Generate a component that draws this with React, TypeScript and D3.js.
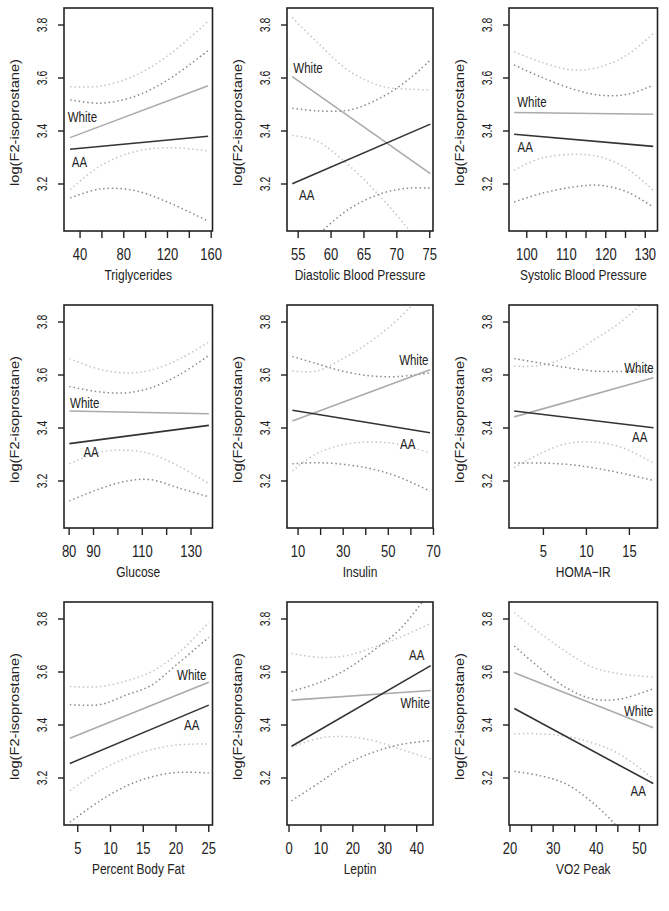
import * as d3 from "d3";

// panel titles (x axis)
const xTitles = [
  "Triglycerides",
  "Diastolic Blood Pressure",
  "Systolic Blood Pressure",
  "Glucose",
  "Insulin",
  "HOMA\u2212IR",
  "Percent Body Fat",
  "Leptin",
  "VO2 Peak",
];
const yTitle = "log(F2-isoprostane)";
const yDomain: [number, number] = [3.0226, 3.8642];
const yTicks = [3.2, 3.4, 3.6, 3.8];

const xDomains: [number, number][] = [
  [25.3, 161.2],
  [53.3, 75.5],
  [95.5, 133.1],
  [77.9, 138.8],
  [5.1, 69.8],
  [1.0, 18.27],
  [2.9, 25.57],
  [-0.63, 45.1],
  [19.77, 54.19],
];
const xTicks = [
  [40, 60, 80, 100, 120, 140, 160],
  [55, 60, 65, 70, 75],
  [100, 105, 110, 115, 120, 125, 130],
  [80, 90, 100, 110, 120, 130],
  [10, 20, 30, 40, 50, 60, 70],
  [5, 10, 15],
  [5, 10, 15, 20, 25],
  [0, 10, 20, 30, 40],
  [20, 25, 30, 35, 40, 45, 50],
];
const xTickLabels = [
  [40, 80, 120, 160],
  [55, 60, 65, 70, 75],
  [100, 110, 120, 130],
  [80, 90, 110, 130],
  [10, 30, 50, 70],
  [5, 10, 15],
  [5, 10, 15, 20, 25],
  [0, 10, 20, 30, 40],
  [20, 30, 40, 50],
];

// fitted lines: x start/end, y start/end
const lineX = [
  [30.8, 157.2], [54.1, 75.1], [96.8, 132.0],
  [80.1, 137.3], [7.5, 68.5], [1.6, 17.8],
  [3.8, 25.0], [0.8, 44.4], [21.0, 53.2],
];
const whiteLine = [
  [3.375, 3.571], [3.605, 3.239], [3.47, 3.463],
  [3.464, 3.454], [3.426, 3.62], [3.442, 3.59],
  [3.35, 3.561], [3.494, 3.53], [3.597, 3.39],
];
const aaLine = [
  [3.331, 3.38], [3.201, 3.426], [3.388, 3.342],
  [3.341, 3.41], [3.467, 3.382], [3.464, 3.401],
  [3.255, 3.475], [3.32, 3.624], [3.462, 3.179],
];

// confidence bands
const bandX = [
  [31, 58, 89, 120, 157],
  [54.1, 57.8, 62.9, 67.9, 72.0, 75.1],
  [96.8, 103.4, 111.9, 118.6, 125.4, 132.0],
  [80.1, 92.7, 103.7, 113.3, 125.6, 137.3],
  [7.5, 18.2, 30.0, 41.9, 53.7, 68.5],
  [1.6, 4.6, 7.7, 10.8, 14.0, 17.8],
  [3.8, 8.4, 12.5, 16.1, 20.2, 25.0],
  [0.8, 9.7, 18.1, 26.4, 34.8, 44.4],
  [21.0, 26.6, 32.8, 39.0, 45.2, 53.2],
];
const whiteUpper = [
  [3.567, 3.569, 3.607, 3.683, 3.813],
  [3.828, 3.737, 3.624, 3.568, 3.558, 3.555],
  [3.699, 3.661, 3.63, 3.642, 3.687, 3.768],
  [3.662, 3.621, 3.608, 3.618, 3.662, 3.725],
  [3.615, 3.615, 3.662, 3.725, 3.806, 3.935],
  [3.633, 3.636, 3.668, 3.731, 3.8, 3.912],
  [3.545, 3.545, 3.567, 3.599, 3.668, 3.787],
  [3.67, 3.655, 3.662, 3.693, 3.731, 3.784],
  [3.824, 3.751, 3.679, 3.619, 3.594, 3.581],
];
const whiteLower = [
  [3.179, 3.267, 3.321, 3.337, 3.325],
  [3.383, 3.363, 3.266, 3.141, 3.022, 2.927],
  [3.252, 3.296, 3.312, 3.302, 3.258, 3.176],
  [3.265, 3.309, 3.316, 3.303, 3.253, 3.19],
  [3.238, 3.303, 3.337, 3.347, 3.34, 3.306],
  [3.25, 3.303, 3.341, 3.347, 3.328, 3.268],
  [3.152, 3.228, 3.276, 3.306, 3.325, 3.328],
  [3.316, 3.351, 3.356, 3.341, 3.309, 3.272],
  [3.367, 3.367, 3.358, 3.333, 3.292, 3.197],
];
const aaUpper = [
  [3.518, 3.505, 3.529, 3.592, 3.703],
  [3.486, 3.476, 3.48, 3.53, 3.599, 3.668],
  [3.649, 3.605, 3.557, 3.535, 3.538, 3.573],
  [3.557, 3.536, 3.533, 3.551, 3.603, 3.674],
  [3.67, 3.643, 3.614, 3.597, 3.594, 3.608],
  [3.662, 3.645, 3.628, 3.615, 3.613, 3.618],
  [3.477, 3.477, 3.514, 3.548, 3.63, 3.731],
  [3.527, 3.561, 3.611, 3.681, 3.762, 3.907],
  [3.698, 3.619, 3.543, 3.499, 3.497, 3.537],
];
const aaLower = [
  [3.147, 3.181, 3.176, 3.132, 3.06],
  [2.916, 3.004, 3.108, 3.166, 3.185, 3.184],
  [3.132, 3.163, 3.189, 3.195, 3.17, 3.113],
  [3.125, 3.171, 3.2, 3.205, 3.172, 3.14],
  [3.265, 3.269, 3.263, 3.247, 3.218, 3.162],
  [3.268, 3.268, 3.263, 3.25, 3.23, 3.202],
  [3.033, 3.114, 3.171, 3.203, 3.221, 3.219],
  [3.114, 3.184, 3.253, 3.297, 3.326, 3.341],
  [3.225, 3.21, 3.179, 3.109, 3.009, 2.82],
];

// text label positions in data units
const whiteLabelPos = [
  [42.1, 3.453], [56.5, 3.637], [101.3, 3.51],
  [86.4, 3.494], [61.3, 3.655], [16.1, 3.628],
  [22.4, 3.59], [39.5, 3.482], [49.8, 3.452],
];
const aaLabelPos = [
  [39.4, 3.283], [56.3, 3.16], [99.6, 3.34],
  [89.0, 3.309], [58.6, 3.341], [16.2, 3.366],
  [22.4, 3.401], [40.0, 3.662], [49.7, 3.15],
];

const colLeft = [64, 287, 509];
const colWidth = [148.5, 146, 148.5];
const rowTop = [8, 305, 602];
const boxH = 223;
const FONT = "'Liberation Sans', Arial, Helvetica, sans-serif";
const INK = "#222";
const STRETCH = 1.22;

const Panel = ({ i }: { i: number }) => {
  const left = colLeft[i % 3];
  const w = colWidth[i % 3];
  const top = rowTop[Math.floor(i / 3)];
  const bottom = top + boxH;

  const x = d3.scaleLinear().domain(xDomains[i]).range([left, left + w]);
  const y = d3.scaleLinear().domain(yDomain).range([bottom, top]);

  const curve = d3
    .line<[number, number]>()
    .x((d) => x(d[0]))
    .y((d) => y(d[1]))
    .curve(d3.curveCatmullRom.alpha(0.5));
  const straight = d3
    .line<[number, number]>()
    .x((d) => x(d[0]))
    .y((d) => y(d[1]));

  const pts = (vals: number[]) =>
    bandX[i].map((bx, k) => [bx, vals[k]] as [number, number]);
  const seg = (ys: number[]) =>
    [
      [lineX[i][0], ys[0]],
      [lineX[i][1], ys[1]],
    ] as [number, number][];

  const clipId = `clip${i}`;

  return (
    <g>
      <defs>
        <clipPath id={clipId}>
          <rect x={left} y={top} width={w} height={boxH} />
        </clipPath>
      </defs>

      <g clipPath={`url(#${clipId})`} fill="none">
        {/* confidence bands */}
        <path d={curve(pts(whiteUpper[i])) || ""} stroke="#c4c4c4" strokeWidth={1.5} strokeDasharray="1.5,2.8" />
        <path d={curve(pts(whiteLower[i])) || ""} stroke="#c4c4c4" strokeWidth={1.5} strokeDasharray="1.5,2.8" />
        <path d={curve(pts(aaUpper[i])) || ""} stroke="#8a8a8a" strokeWidth={1.5} strokeDasharray="1.5,2.8" />
        <path d={curve(pts(aaLower[i])) || ""} stroke="#8a8a8a" strokeWidth={1.5} strokeDasharray="1.5,2.8" />
        {/* fitted lines */}
        <path d={straight(seg(whiteLine[i])) || ""} stroke="#ababab" strokeWidth={1.6} />
        <path d={straight(seg(aaLine[i])) || ""} stroke="#333" strokeWidth={1.6} />
      </g>

      {/* group labels */}
      <text
        transform={`translate(${x(whiteLabelPos[i][0])},${y(whiteLabelPos[i][1])}) scale(1,${STRETCH})`}
        fontSize={11.5}
        textAnchor="middle"
        dominantBaseline="central"
        fill={INK}
      >
        White
      </text>
      <text
        transform={`translate(${x(aaLabelPos[i][0])},${y(aaLabelPos[i][1])}) scale(1,${STRETCH})`}
        fontSize={11.5}
        textAnchor="middle"
        dominantBaseline="central"
        fill={INK}
      >
        AA
      </text>

      {/* box */}
      <rect x={left} y={top} width={w} height={boxH} fill="none" stroke={INK} strokeWidth={1.6} />

      {/* x axis */}
      {xTicks[i].map((t) => (
        <line key={`xt${t}`} x1={x(t)} x2={x(t)} y1={bottom} y2={bottom + 7} stroke={INK} strokeWidth={1.4} />
      ))}
      {xTickLabels[i].map((t) => (
        <text
          key={`xl${t}`}
          transform={`translate(${x(t)},${bottom + 24}) scale(1,${STRETCH})`}
          fontSize={13}
          textAnchor="middle"
          dominantBaseline="central"
          fill={INK}
        >
          {t}
        </text>
      ))}
      <text
        transform={`translate(${left + w / 2},${bottom + 44}) scale(1,${STRETCH})`}
        fontSize={12}
        textAnchor="middle"
        dominantBaseline="central"
        fill={INK}
      >
        {xTitles[i]}
      </text>

      {/* y axis */}
      {yTicks.map((t) => (
        <line key={`yt${t}`} x1={left - 6} x2={left} y1={y(t)} y2={y(t)} stroke={INK} strokeWidth={1.4} />
      ))}
      {yTicks.map((t) => (
        <text
          key={`yl${t}`}
          transform={`translate(${left - 22},${y(t)}) rotate(-90) scale(0.72,1)`}
          fontSize={14.5}
          textAnchor="middle"
          dominantBaseline="central"
          fill={INK}
        >
          {t.toFixed(1)}
        </text>
      ))}
      <text
        transform={`translate(${left - 49},${top + boxH / 2 + 3}) rotate(-90) scale(${STRETCH},1)`}
        fontSize={12}
        textAnchor="middle"
        dominantBaseline="central"
        fill={INK}
      >
        {yTitle}
      </text>
    </g>
  );
};

export default function App() {
  return (
    <svg
      width={669}
      height={911}
      style={{ position: "absolute", left: 0, top: 0, background: "#fff" }}
      fontFamily={FONT}
    >
      <rect width={669} height={911} fill="#fff" />
      {d3.range(9).map((i) => (
        <Panel key={i} i={i} />
      ))}
    </svg>
  );
}
